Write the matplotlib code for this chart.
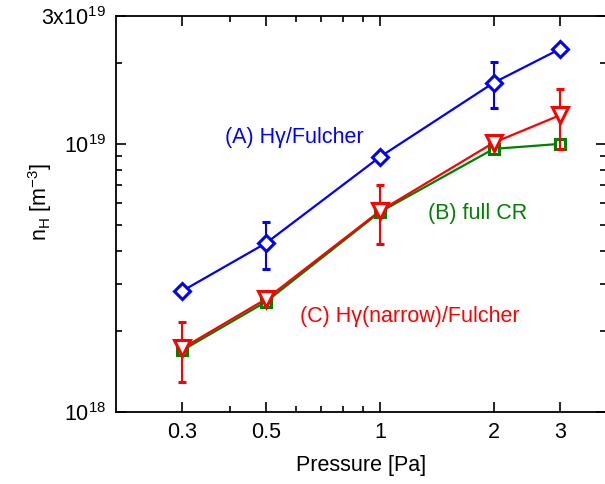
import numpy as np
import matplotlib
matplotlib.use('Agg')
import matplotlib.pyplot as plt
from matplotlib.ticker import FixedLocator, FixedFormatter, NullFormatter

plt.rcParams['font.family'] = ['Liberation Sans', 'DejaVu Sans']
plt.rcParams['mathtext.fontset'] = 'custom'
plt.rcParams['mathtext.rm'] = 'Liberation Sans'
plt.rcParams['mathtext.it'] = 'Liberation Sans'
plt.rcParams['mathtext.default'] = 'regular'

# Pressure scan [Pa]
pressure = [0.3, 0.5, 1, 2, 3]

# (A) Hgamma/Fulcher
nH_A = [2.83e18, 4.27e18, 8.94e18, 1.69e19, 2.26e19]
err_A = [0, 0.85e18, 0, 0.33e19, 0]

# (B) full CR
nH_B = [1.70e18, 2.58e18, 5.57e18, 9.58e18, 1.00e19]

# (C) Hgamma(narrow)/Fulcher
nH_C = [1.73e18, 2.64e18, 5.62e18, 1.01e19, 1.28e19]
err_C = [0.44e18, 0, 1.4e18, 0, 0.32e19]

xticks = [0.3, 0.5, 1, 2, 3]
xticklabels = ['0.3', '0.5', '1', '2', '3']
yticks = [1e18, 1e19, 3e19]
yticklabels = ['$10^{18}$', '$10^{19}$', '$3x10^{19}$']

fs = 15.5

fig = plt.figure(figsize=(6.05, 4.84), dpi=100)
ax = fig.add_axes([0.1917, 0.1488, 0.81, 0.8182])

# green first, red over it, blue last
ax.plot(pressure, nH_B, color='#008000', lw=1.6, marker='s', ms=7.5,
        mfc='white', mec='#008000', mew=2.2, zorder=2)
ax.errorbar(pressure, nH_C, yerr=err_C, color='#ff0000', lw=1.6, marker='v', ms=11,
            mfc='white', mec='#ff0000', mew=2.2, capsize=3, elinewidth=1.5, capthick=1.5, zorder=3)
ax.errorbar(pressure, nH_A, yerr=err_A, color='#0000ff', lw=1.6, marker='D', ms=8,
            mfc='white', mec='#0000ff', mew=2.2, capsize=3, elinewidth=1.5, capthick=1.5, zorder=4)

ax.set_xscale('log')
ax.set_yscale('log')
ax.set_xlim(0.2, 3.97)
ax.set_ylim(1e18, 3e19)

ax.xaxis.set_major_locator(FixedLocator(xticks))
ax.xaxis.set_major_formatter(FixedFormatter(xticklabels))
ax.xaxis.set_minor_locator(FixedLocator([0.4, 0.6, 0.7, 0.8, 0.9]))
ax.xaxis.set_minor_formatter(NullFormatter())

ax.yaxis.set_major_locator(FixedLocator(yticks))
ax.yaxis.set_major_formatter(FixedFormatter(yticklabels))
ax.yaxis.set_minor_locator(FixedLocator([k * 1e18 for k in range(2, 10)] + [2e19]))
ax.yaxis.set_minor_formatter(NullFormatter())

ax.tick_params(which='both', direction='in', top=True, right=True, width=1.2)
ax.tick_params(which='major', length=7, labelsize=fs, pad=7)
ax.tick_params(which='minor', length=4)
for s in ax.spines.values():
    s.set_linewidth(1.3)

ax.set_xlabel('Pressure [Pa]', fontsize=fs)
ax.set_ylabel('$n_H$ [$m^{-3}$]', fontsize=fs)
ax.xaxis.set_label_coords(0.5, -0.134)
ax.yaxis.set_label_coords(-0.155, 0.53)
ax.xaxis.label.set_va('center')
ax.yaxis.label.set_va('center')

ax.text(0.39, 1.06e19, '(A) H\u03b3/Fulcher', color='#0000ff', fontsize=fs, va='center')
ax.text(1.34, 5.48e18, '(B) full CR', color='#008000', fontsize=fs, va='center')
ax.text(0.615, 2.28e18, '(C) H\u03b3(narrow)/Fulcher', color='#ff0000', fontsize=fs, va='center')

fig.savefig('out.png', dpi=100)
